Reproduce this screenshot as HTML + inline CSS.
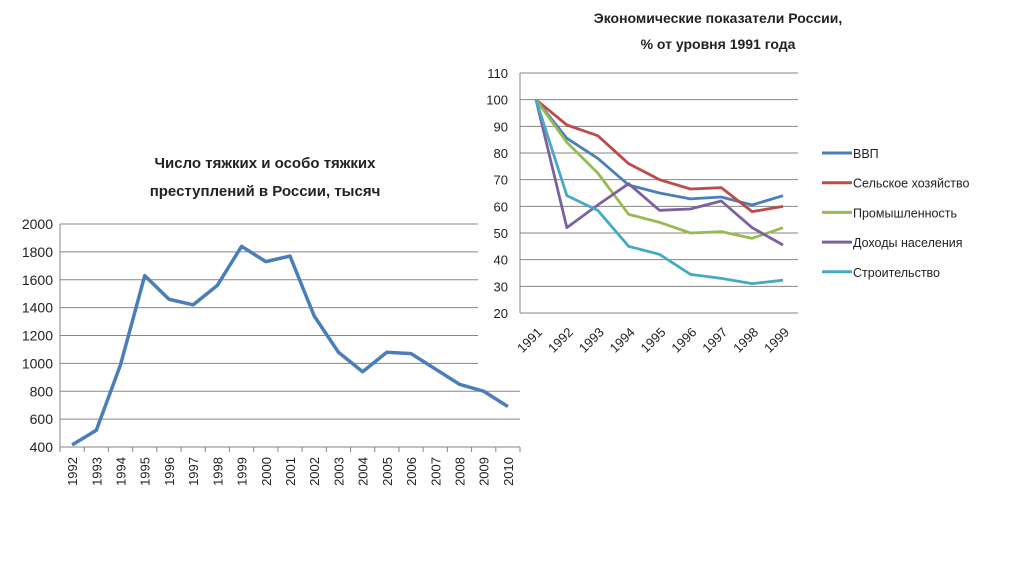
<!DOCTYPE html>
<html><head><meta charset="utf-8"><style>
html,body{margin:0;padding:0;background:#fff;width:1024px;height:574px;overflow:hidden}
svg{font-family:"Liberation Sans","DejaVu Sans",sans-serif}
</style></head><body>
<svg id="s" width="1024" height="574" viewBox="0 0 1024 574" xmlns="http://www.w3.org/2000/svg">
<g id="left"></g>
<rect x="478" y="0" width="546" height="376" fill="#fff"/>
<g id="right"></g>
</svg>
<script>
const crimeYears=["1992","1993","1994","1995","1996","1997","1998","1999","2000","2001","2002","2003","2004","2005","2006","2007","2008","2009","2010"];
const crimeValues=[415,520,990,1630,1460,1420,1560,1840,1730,1770,1340,1080,940,1080,1070,960,850,800,690];
const crimeTicks=[400,600,800,1000,1200,1400,1600,1800,2000];
const econYears=["1991","1992","1993","1994","1995","1996","1997","1998","1999"];
const econNames=["ВВП","Сельское хозяйство","Промышленность","Доходы населения","Строительство"];
const gdp=[100,85.5,78,68,65,62.8,63.5,60.5,64];
const agri=[100,90.5,86.5,76,70,66.5,67,58,60];
const industry=[100,84,72.5,57,54,50,50.5,48,52];
const income=[100,52,60.5,68.5,58.5,59,62,52,45.5];
const construction=[100,64,58.5,45,42,34.5,33,31,32.3];
const econTicks=[20,30,40,50,60,70,80,90,100,110];
const econSeries=[gdp,agri,industry,income,construction];
const colors=["#4a7ebb","#be4b48","#98b954","#7d60a0","#46aac5"];
const NS="http://www.w3.org/2000/svg";
function mk(p,t,a,txt){const e=document.createElementNS(NS,t);for(const k in a)e.setAttribute(k,a[k]);if(txt!=null)e.textContent=txt;p.appendChild(e);return e;}
// LEFT
const L=document.getElementById('left');
const lx0=60,lx1=520,ly=v=>447-(v-400)*(447-224)/1600,lstep=(lx1-lx0)/crimeYears.length;
const lx=i=>lx0+lstep*(i+0.5);
let t=mk(L,'text',{x:265,y:168,'text-anchor':'middle','font-size':15,'font-weight':'bold',fill:'#222'},'Число тяжких и особо тяжких');


t=mk(L,'text',{x:265,y:196,'text-anchor':'middle','font-size':15,'font-weight':'bold',fill:'#222'},'преступлений в России, тысяч');


crimeTicks.forEach(v=>{
 const g=mk(L,'line',{x1:lx0,x2:lx1,y1:ly(v),y2:ly(v),stroke:'#868686','stroke-width':1});
 
 
 const tx=mk(L,'text',{x:53,y:ly(v)+5,'text-anchor':'end','font-size':14,fill:'#222'},v);
 
 
});
let ax=mk(L,'line',{x1:lx0,x2:lx0,y1:ly(2000),y2:ly(400)+4,stroke:'#868686'});


for(let i=0;i<=crimeYears.length;i++){const k=mk(L,'line',{x1:lx0+lstep*i,x2:lx0+lstep*i,y1:447,y2:452,stroke:'#868686'});
 
 }
crimeYears.forEach((y,i)=>{const tx=mk(L,'text',{x:0,y:0,transform:`translate(${lx(i)+5},${457}) rotate(-90)`,'text-anchor':'end','font-size':13,fill:'#222'},y);
 
 });
let pl=mk(L,'polyline',{points:crimeValues.map((v,i)=>lx(i)+','+ly(v)).join(' '),fill:'none',stroke:'#4a7ebb','stroke-width':3.5,'stroke-linejoin':'round'});


// RIGHT
const R=document.getElementById('right');
const rx0=520,rx1=798,ry=v=>313-(v-20)*(313-73)/90,rx=i=>536+i*(783-536)/8;
t=mk(R,'text',{x:718,y:23,'text-anchor':'middle','font-size':14,'font-weight':'bold',fill:'#222'},'Экономические показатели России,');


t=mk(R,'text',{x:718,y:49,'text-anchor':'middle','font-size':14,'font-weight':'bold',fill:'#222'},'% от уровня 1991 года');


econTicks.forEach(v=>{
 const g=mk(R,'line',{x1:rx0,x2:rx1,y1:ry(v),y2:ry(v),stroke:'#868686'});
 
 
 const tx=mk(R,'text',{x:508,y:ry(v)+5,'text-anchor':'end','font-size':13,fill:'#222'},v);
 
 
});
ax=mk(R,'line',{x1:rx0,x2:rx0,y1:ry(110),y2:ry(20),stroke:'#868686'});


econYears.forEach((y,i)=>{const tx=mk(R,'text',{x:0,y:0,transform:`translate(${rx(i)+7},${333}) rotate(-45)`,'text-anchor':'end','font-size':13,fill:'#222'},y);
 
 });
econSeries.forEach((s,k)=>{
 const p=mk(R,'polyline',{points:s.map((v,i)=>rx(i)+','+ry(v)).join(' '),fill:'none',stroke:colors[k],'stroke-width':2.8,'stroke-linejoin':'round'});
 
 
 const ly2=153+k*29.7;
 const ll=mk(R,'line',{x1:822,x2:852,y1:ly2,y2:ly2,stroke:colors[k],'stroke-width':3});
 
 
 const lt=mk(R,'text',{x:853,y:ly2+5,'font-size':12.5,fill:'#222'},econNames[k]);
 
 
});
</script>
</body></html>
